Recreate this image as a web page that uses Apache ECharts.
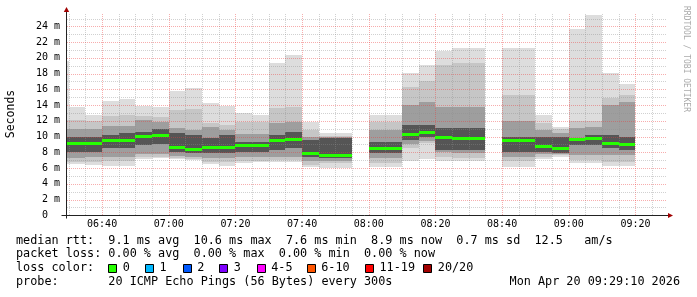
<!DOCTYPE html>
<html><head><meta charset="utf-8">
<script src="https://cdn.jsdelivr.net/npm/echarts@6/dist/echarts.min.js"></script>
<style>html,body{margin:0;padding:0;background:#fff}#c{width:697px;height:297px}</style>
</head><body><div id="c"></div>
<script>
// ---- data ----
const bucketStart = ['06:25','06:30','06:35','06:40','06:45','06:50','06:55','07:00','07:05','07:10','07:15','07:20','07:25','07:30','07:35','07:40','07:45','07:50','07:55','08:00','08:05','08:10','08:15','08:20','08:25','08:30','08:35','08:40','08:45','08:50','08:55','09:00','09:05','09:10','09:15'];
const stepMinutes = 5;
const smokeMax = [19.6,13.8,12.74,14.57,14.82,13.93,13.8,15.84,16.18,14.27, 13.89,12.96,12.7,19.39,20.37,11.9,10.4,10.4,null,12.7, 12.7,18.12,19.06,20.92,21.3,21.3,null,21.3,21.3,12.7, 11.18,23.63,25.49,18.04,16.73];
const smokeMin = [6.5,6.5,6.4,6.3,6.2,7.15,7.24,7.15,7.03,6.52, 6.31,6.6,6.81,6.81,6.81,6.18,5.97,5.97,null,6.18, 6.18,6.94,7.11,6.94,6.94,6.94,null,6.18,6.18,7.11, 7.45,6.69,6.69,6.26,6.26];
const band2Hi = [12.1,12.1,12.0,12.6,12.7,12.6,12.45,13.38,13.55,11.77, 11.47,11.9,11.9,13.59,13.8,10.84,10.1,10.1,null,11.9, 11.9,16.26,17.11,19.1,19.39,19.39,null,15.29,15.29,11.77, 10.92,11.98,11.98,14.86,15.29];
const band2Lo = [6.8,6.8,6.8,6.95,6.9,7.45,7.45,7.24,7.2,6.81, 6.81,6.94,6.94,7.03,7.03,6.39,6.6,6.6,null,6.6, 6.6,8.6,9.14,7.45,7.24,7.24,null,6.94,6.94,7.45, 7.66,7.03,7.03,6.81,6.81];
const band3Hi = [11.0,11.0,11.0,11.3,11.35,12.1,11.9,11.13,10.84,11.26, 10.8,10.3,10.3,11.69,11.9,10.0,10.0,10.0,null,10.84, 10.84,14.02,14.44,13.8,13.8,13.8,null,11.98,11.98,10.84, 10.5,11.05,11.26,14.02,14.44];
const band3Lo = [7.3,7.3,7.45,7.45,7.45,7.8,7.8,7.58,7.45,7.3, 7.24,7.45,7.45,7.45,7.45,6.9,6.9,6.9,null,7.24, 7.24,9.0,9.4,8.0,7.87,7.87,null,7.45,7.45,7.8, 7.8,7.66,7.66,7.66,7.66];
const band4Hi = [10.0,10.0,9.9,10.2,10.4,10.6,10.9,10.42,10.2,9.78, 10.2,9.36,9.36,10.2,10.63,9.57,9.86,9.86,null,9.36, 9.36,11.47,11.47,11.05,11.05,11.05,null,9.99,9.99,9.99, 9.99,9.86,10.2,10.2,9.99];
const band4Lo = [8.0,8.0,8.0,8.5,8.6,8.9,9.0,8.09,7.96,7.87, 7.87,8.09,8.09,8.3,8.5,7.45,7.24,7.24,null,7.87, 7.87,9.6,10.0,8.3,8.3,8.3,null,8.09,8.09,8.09, 7.96,8.93,8.93,8.6,8.3];
const medianRtt = [9.15,9.15,9.15,9.44,9.44,10.03,10.12,8.64,8.42,8.55, 8.55,8.85,8.85,9.44,9.65,7.87,7.58,7.58,null,8.47, 8.47,10.29,10.58,9.86,9.74,9.74,null,9.48,9.48,8.68, 8.47,9.61,9.78,9.1,8.97];

const graphStart = '06:29:10';
const graphEnd = '09:29:10';
const xTickLabels = ['06:40','07:00','07:20','07:40','08:00','08:20','08:40','09:00','09:20'];
const yTickValues = [0,2,4,6,8,10,12,14,16,18,20,22,24];
const yMax = 25.7;

const statsLines = [
  'median rtt:  9.1 ms avg  10.6 ms max  7.6 ms min  8.9 ms now  0.7 ms sd  12.5   am/s',
  'packet loss: 0.00 % avg  0.00 % max  0.00 % min  0.00 % now'
];
const probeLine = 'probe:       20 ICMP Echo Pings (56 Bytes) every 300s';
const dateLine = 'Mon Apr 20 09:29:10 2026';
const lossLabels = ['0','1','2','3','4-5','6-10','11-19','20/20'];
const lossColors = ['#26ff00','#00b8ff','#0059ff','#7e00ff','#ff00ff','#ff5500','#ff0000','#a10000'];

// ---- helpers ----
function toMin(s){ const p = s.split(':').map(Number); return (p[0]-6)*60 + p[1] + (p[2]||0)/60; }
const xMin = toMin(graphStart), xMax = toMin(graphEnd);
const MONO = 'DejaVu Sans Mono';
const GRID_MAJOR = 'rgba(235,60,60,0.42)';
const GRID_MINOR = 'rgba(140,140,140,0.4)';

function bandSeries(lo, hi, color){
  const data = [];
  bucketStart.forEach((t,i)=>{
    if (lo[i]==null || hi[i]==null) return;
    const s = toMin(t);
    data.push([s, s+stepMinutes, lo[i], hi[i]]);
  });
  return {
    type:'custom', clip:true, silent:true, data, encode:{x:[0,1], y:[2,3]},
    renderItem(params, api){
      const a = api.coord([api.value(0), api.value(3)]);
      const b = api.coord([api.value(1), api.value(2)]);
      const x0 = Math.round(a[0]), x1 = Math.round(b[0]);
      const y0 = Math.round(a[1]), y1 = Math.round(b[1]);
      return {type:'rect', shape:{x:x0, y:y0, width:x1-x0, height:Math.max(1,y1-y0)}, style:{fill:color}};
    }
  };
}

function medianSeries(){
  const data = [];
  bucketStart.forEach((t,i)=>{
    if (medianRtt[i]==null) return;
    const s = toMin(t);
    data.push([s, s+stepMinutes, medianRtt[i]]);
  });
  return {
    type:'custom', clip:true, silent:true, data, encode:{x:[0,1], y:2}, z:5,
    renderItem(params, api){
      const a = api.coord([api.value(0), api.value(2)]);
      const b = api.coord([api.value(1), api.value(2)]);
      const x0 = Math.round(a[0]), x1 = Math.round(b[0]);
      const y0 = Math.round(a[1]-1.5);
      return {type:'rect', shape:{x:x0, y:y0, width:x1-x0, height:3}, style:{fill:lossColors[0]}};
    }
  };
}

function gridSeries(){
  return {
    type:'custom', silent:true, data:[[xMin,0]], z:4, clip:false,
    renderItem(params, api){
      const ch = [];
      const majorX = xTickLabels.map(toMin);
      for (let m = Math.ceil(xMin/stepMinutes)*stepMinutes; m < xMax; m += stepMinutes){
        const isMajor = majorX.some(v => Math.abs(v-m) < 1e-6);
        const x = Math.round(api.coord([m,0])[0]) + 0.5;
        const yb = Math.round(api.coord([m,0])[1]), yt = api.coord([m,yMax])[1];
        ch.push({type:'line', shape:{x1:x, y1:yb, x2:x, y2:yt},
          style:{stroke: isMajor ? GRID_MAJOR : GRID_MINOR, lineWidth:1, lineDash:[1,1]}});
      }
      for (let v = 1; v < yMax; v += 1){
        const isMajor = yTickValues.indexOf(v) >= 0;
        const y = Math.round(api.coord([xMin,v])[1]) + 0.5;
        const xl = Math.round(api.coord([xMin,v])[0]) + 1, xr = api.coord([xMax,v])[0];
        ch.push({type:'line', shape:{x1:xl, y1:y, x2:xr, y2:y},
          style:{stroke: isMajor ? GRID_MAJOR : GRID_MINOR, lineWidth:1, lineDash:[1,1]}});
      }
      return {type:'group', children: ch};
    }
  };
}

function axesSeries(){
  return {
    type:'custom', silent:true, data:[[xMin,0]], z:6, clip:false,
    renderItem(params, api){
      const o = api.coord([xMin,0]);
      const r = api.coord([xMax,0]);
      const t = api.coord([xMin,yMax]);
      const ox = Math.round(o[0]) + 0.5, oy = Math.round(o[1]) + 0.5;
      const rx = r[0] + 2, ty = t[1] - 1;
      return {type:'group', children:[
        {type:'line', shape:{x1:ox-5, y1:oy, x2:rx, y2:oy}, style:{stroke:'#222', lineWidth:1}},
        {type:'line', shape:{x1:ox, y1:oy+3, x2:ox, y2:ty}, style:{stroke:'#222', lineWidth:1}},
        {type:'polygon', shape:{points:[[rx,oy-2.5],[rx+5,oy],[rx,oy+2.5]]}, style:{fill:'#a00000'}},
        {type:'polygon', shape:{points:[[ox-2.7,ty],[ox,ty-5],[ox+2.7,ty]]}, style:{fill:'#a00000'}}
      ]};
    }
  };
}

// ---- legend / texts ----
const legendBoxX = [108.3, 145, 182.7, 219.3, 256.7, 306.7, 365, 423.3];
const lineY = [240.5, 254.3, 268, 281.8];
const txt = (x, y, s, extra) => Object.assign({type:'text', x, y, silent:true,
  style:Object.assign({text:s, fill:'#000', font:'11.8px "'+MONO+'"', verticalAlign:'middle', align:'left'}, extra||{})});
const graphics = [
  txt(16, lineY[0], statsLines[0]),
  txt(16, lineY[1], statsLines[1]),
  txt(16, lineY[2], 'loss color:'),
  txt(16, lineY[3], probeLine),
  txt(680, lineY[3], dateLine, {align:'right'}),
  {type:'text', x:11, y:114, rotation:Math.PI/2, silent:true,
    style:{text:'Seconds', fill:'#000', font:'11.5px "'+MONO+'"', align:'center', verticalAlign:'middle'}},
  {type:'text', x:686.5, y:59, rotation:-Math.PI/2, silent:true,
    style:{text:'RRDTOOL / TOBI OETIKER', fill:'#aaaaaa', font:'8px "'+MONO+'"', align:'center', verticalAlign:'middle'}}
];
lossLabels.forEach((lab, i) => {
  const bx = legendBoxX[i];
  graphics.push({type:'rect', silent:true, shape:{x:Math.round(bx)+0.5, y:264.5, width:8, height:8},
    style:{fill:lossColors[i], stroke:'#000', lineWidth:1}});
  graphics.push(txt(bx+14.5, lineY[2], lab));
});

const chart = echarts.init(document.getElementById('c'), null, {renderer:'canvas'});
chart.setOption({
  animation:false,
  backgroundColor:'#ffffff',
  grid:{left:66, right:31, top:13, bottom:81.7, containLabel:false},
  xAxis:{type:'value', min:xMin, max:xMax,
    axisLine:{show:false}, axisTick:{show:false}, splitLine:{show:false},
    axisLabel:{customValues: xTickLabels.map(toMin), formatter: v => {
        const idx = xTickLabels.map(toMin).findIndex(m => Math.abs(m-v) < 1e-6);
        return idx >= 0 ? xTickLabels[idx] : '';
      }, fontFamily:MONO, fontSize:10, color:'#000', margin:4, showMinLabel:true, showMaxLabel:true}
  },
  yAxis:{type:'value', min:0, max:yMax, interval:2,
    axisLine:{show:false}, axisTick:{show:false}, splitLine:{show:false},
    axisLabel:{formatter: v => v === 0 ? '0\u00a0\u00a0' : (yTickValues.indexOf(v) >= 0 ? v + ' m' : ''),
      fontFamily:MONO, fontSize:10, color:'#000', margin:6, showMaxLabel:false}
  },
  series:[
    bandSeries(smokeMin, smokeMax, '#dddddd'),
    bandSeries(band2Lo, band2Hi, '#c6c6c6'),
    bandSeries(band3Lo, band3Hi, '#9e9e9e'),
    bandSeries(band4Lo, band4Hi, '#555555'),
    gridSeries(),
    medianSeries(),
    axesSeries()
  ],
  graphic: graphics
});
</script>
</body></html>
